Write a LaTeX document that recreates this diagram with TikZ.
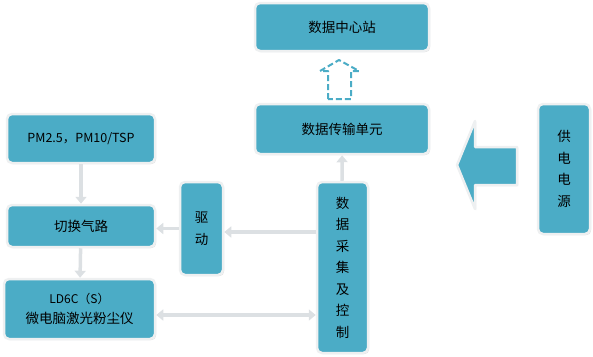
\documentclass[tikz,border=0pt]{standalone}
\usepackage{fontspec}
\setmainfont{Noto Sans CJK SC}
\usetikzlibrary{arrows.meta,shadows}
\definecolor{boxblue}{HTML}{4BACC6}
\definecolor{rim}{HTML}{EEF0F1}
\definecolor{pipe}{HTML}{DCE0E3}
\tikzset{
  box/.style={draw=rim, line width=2.5pt, fill=boxblue, rounded corners=5pt,
    inner sep=0pt, align=center, font=\fontsize{13.5}{21.5}\selectfont,
    drop shadow={shadow xshift=1.2pt, shadow yshift=-1.2pt, opacity=.25}},
  flow/.style={draw=pipe, line width=3.5pt, -{Triangle[width=11pt,length=7pt]}},
}
\begin{document}
\begin{tikzpicture}[x=1pt,y=-1pt]
\useasboundingbox (0,0) rectangle (593,356);
% boxes
\node[box, minimum width=174pt, minimum height=48pt] (zx) at (342,27) {数据中心站};
\node[box, minimum width=174pt, minimum height=50pt] (tx) at (342,129) {数据传输单元};
\node[box, minimum width=52pt, minimum height=130pt] (gd) at (564,169) {供\\电\\电\\源};
\node[box, minimum width=51pt, minimum height=171pt] (cj) at (342.5,267.5) {数\\据\\采\\集\\及\\控\\制};
\node[box, minimum width=43pt, minimum height=93pt] (qd) at (201.5,228.5) {驱\\动};
\node[box, minimum width=148pt, minimum height=49pt, font=\fontsize{12.5}{14}\selectfont] (pm) at (81,138.5) {PM2.5，PM10/TSP};
\node[box, minimum width=148pt, minimum height=42pt] (qh) at (81,226) {切换气路};
\node[box, minimum width=151pt, minimum height=60pt, font=\fontsize{13.5}{20}\selectfont] (ld) at (79.5,309) {{\fontsize{12}{13}\selectfont LD6C（S）}\\微电脑激光粉尘仪};
% connectors
\draw[flow] (pm) -- (qh);
\draw[flow] (qh) -- (ld);
\draw[flow] (qd.west) -- (qd.west -| qh.east);
\draw[flow] (cj.west |- 0,232) -- (qd.east |- 0,232);
\draw[flow, {Triangle[width=11pt,length=7pt]}-{Triangle[width=11pt,length=7pt]}] ([yshift=-6pt]ld.east) -- ([yshift=-6pt]ld.east -| cj.west);
\draw[flow] (cj) -- (tx);
% dashed up arrow
\draw[boxblue, line width=2pt, dash pattern=on 6pt off 3pt, line join=round]
  (328,99) -- (328,71) -- (320,71) -- (339,60) -- (359,71) -- (351,71) -- (351,99) -- cycle;
% power arrow
\draw[rim, line width=2.5pt, fill=boxblue, line join=round,
  drop shadow={shadow xshift=1.2pt, shadow yshift=-1.2pt, opacity=.25}]
  (517,147) -- (475,147) -- (475,121) -- (457,165) -- (475,209) -- (475,185) -- (517,185) -- cycle;
\end{tikzpicture}
\end{document}
